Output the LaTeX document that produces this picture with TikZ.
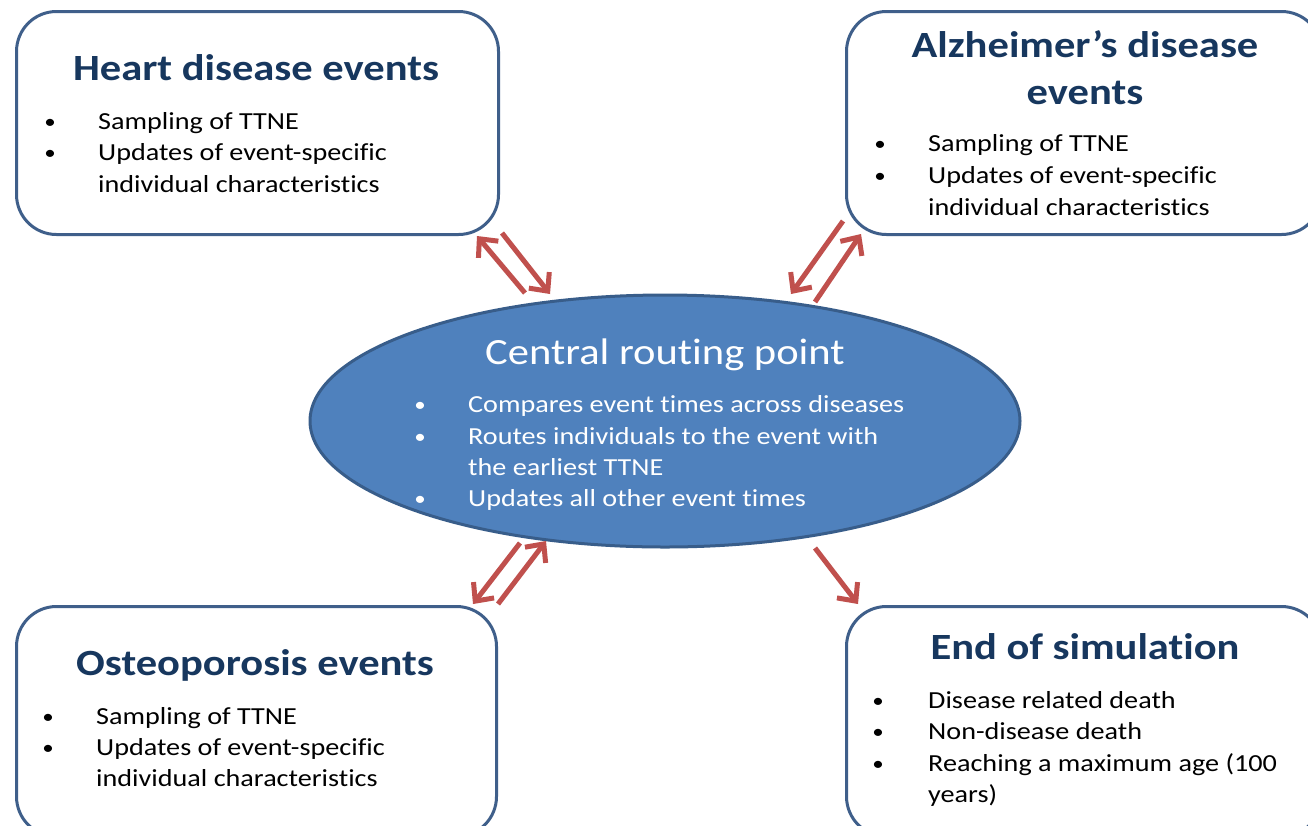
\documentclass[tikz,border=0pt]{standalone}
\usepackage{fontspec}
\setmainfont{Carlito}[FakeStretch=1.15, Ligatures=NoCommon]
\usetikzlibrary{arrows.meta,shapes.geometric}
\definecolor{boxline}{HTML}{3F5F8A}
\definecolor{titleblue}{HTML}{17375E}
\definecolor{ellfill}{HTML}{4F81BD}
\definecolor{ellline}{HTML}{385D8A}
\definecolor{arrred}{HTML}{C0504D}
\begin{document}
\begin{tikzpicture}[x=1pt,y=-1pt,
  eventbox/.style={draw=boxline, line width=3pt, rounded corners=40pt, fill=white, inner sep=0pt, anchor=north west},
  title/.style={font=\fontsize{37}{44}\selectfont\bfseries, text=titleblue, anchor=base, inner sep=0pt},
  item/.style={font=\fontsize{24.5}{30}\selectfont, anchor=base west, inner sep=0pt},
  bul/.style={font=\fontsize{20}{30}\selectfont, anchor=base, inner sep=0pt},
  hubtitle/.style={font=\fontsize{37}{44}\selectfont, text=white, anchor=base, inner sep=0pt},
  hubitem/.style={item, text=white},
  hubbul/.style={bul, text=white},
  flow/.style={draw=arrred, line width=5pt, -{Straight Barb[length=14pt,width=26pt]}}]
\clip (0,0) rectangle (1308,825);
\fill[white] (0,0) rectangle (1308,825);

% boxes
\node[eventbox, minimum width=482pt, minimum height=223pt] (heart) at (15,10) {};
\node[eventbox, minimum width=475pt, minimum height=223pt] (alz) at (845,10) {};
\node[eventbox, minimum width=480pt, minimum height=230pt] (osteo) at (15,605) {};
\node[eventbox, minimum width=475pt, minimum height=230pt] (endsim) at (845,605) {};

% hub
\node[ellipse, draw=ellline, line width=3pt, fill=ellfill, minimum width=710pt, minimum height=252pt, inner sep=0pt] (hub) at (665,421) {};

% heart text
\node[title] (heartT) at (256,80) {Heart disease events};
\node[bul] (hb1) at (50,128) {•};
\node[item] (hi1) at (98,129) {Sampling of TTNE};
\node[bul] (hb2) at (50,159.5) {•};
\node[item] (hi2) at (98,160.5) {Updates of event-specific};
\node[item] (hi3) at (98,192) {individual characteristics};

% alzheimer text
\node[title] (alzT1) at (1085,57) {Alzheimer’s disease};
\node[title] (alzT2) at (1085,104) {events};
\node[bul] (ab1) at (880,150) {•};
\node[item] (ai1) at (928,151) {Sampling of TTNE};
\node[bul] (ab2) at (880,182) {•};
\node[item] (ai2) at (928,183) {Updates of event-specific};
\node[item] (ai3) at (928,215) {individual characteristics};

% osteoporosis text
\node[title] (ostT) at (255,675) {Osteoporosis events};
\node[bul] (ob1) at (48,723) {•};
\node[item] (oi1) at (96,724) {Sampling of TTNE};
\node[bul] (ob2) at (48,754) {•};
\node[item] (oi2) at (96,755) {Updates of event-specific};
\node[item] (oi3) at (96,786) {individual characteristics};

% end text
\node[title] (endT) at (1085,659) {End of simulation};
\node[bul] (eb1) at (878,707) {•};
\node[item] (ei1) at (928,708) {Disease related death};
\node[bul] (eb2) at (878,738) {•};
\node[item] (ei2) at (928,739) {Non-disease death};
\node[bul] (eb3) at (878,770) {•};
\node[item] (ei3) at (928,771) {Reaching a maximum age (100};
\node[item] (ei4) at (928,802) {years)};

% hub text
\node[hubtitle] (hubT) at (665,364) {Central routing point};
\node[hubbul] (cb1) at (420,411) {•};
\node[hubitem] (ci1) at (468,412) {Compares event times across diseases};
\node[hubbul] (cb2) at (420,443) {•};
\node[hubitem] (ci2) at (468,444) {Routes individuals to the event with};
\node[hubitem] (ci3) at (468,475) {the earliest TTNE};
\node[hubbul] (cb3) at (420,505) {•};
\node[hubitem] (ci4) at (468,506) {Updates all other event times};

% arrow end points
\coordinate (hubHa) at (525,293);
\coordinate (heartA) at (477,236);
\coordinate (heartB) at (502,233);
\coordinate (hubHb) at (550,294);
\coordinate (alzA) at (843,221);
\coordinate (hubAa) at (791,294);
\coordinate (hubAb) at (815,302);
\coordinate (alzB) at (861,234);
\coordinate (hubOa) at (520,543);
\coordinate (ostA) at (473,604);
\coordinate (ostB) at (498,604);
\coordinate (hubOb) at (546,541);
\coordinate (hubE) at (815,548);
\coordinate (endA) at (858,604);

\draw[flow] (hubHa) -- (heartA);
\draw[flow] (heartB) -- (hubHb);
\draw[flow] (alzA) -- (hubAa);
\draw[flow] (hubAb) -- (alzB);
\draw[flow] (hubOa) -- (ostA);
\draw[flow] (ostB) -- (hubOb);
\draw[flow] (hubE) -- (endA);
\end{tikzpicture}
\end{document}
